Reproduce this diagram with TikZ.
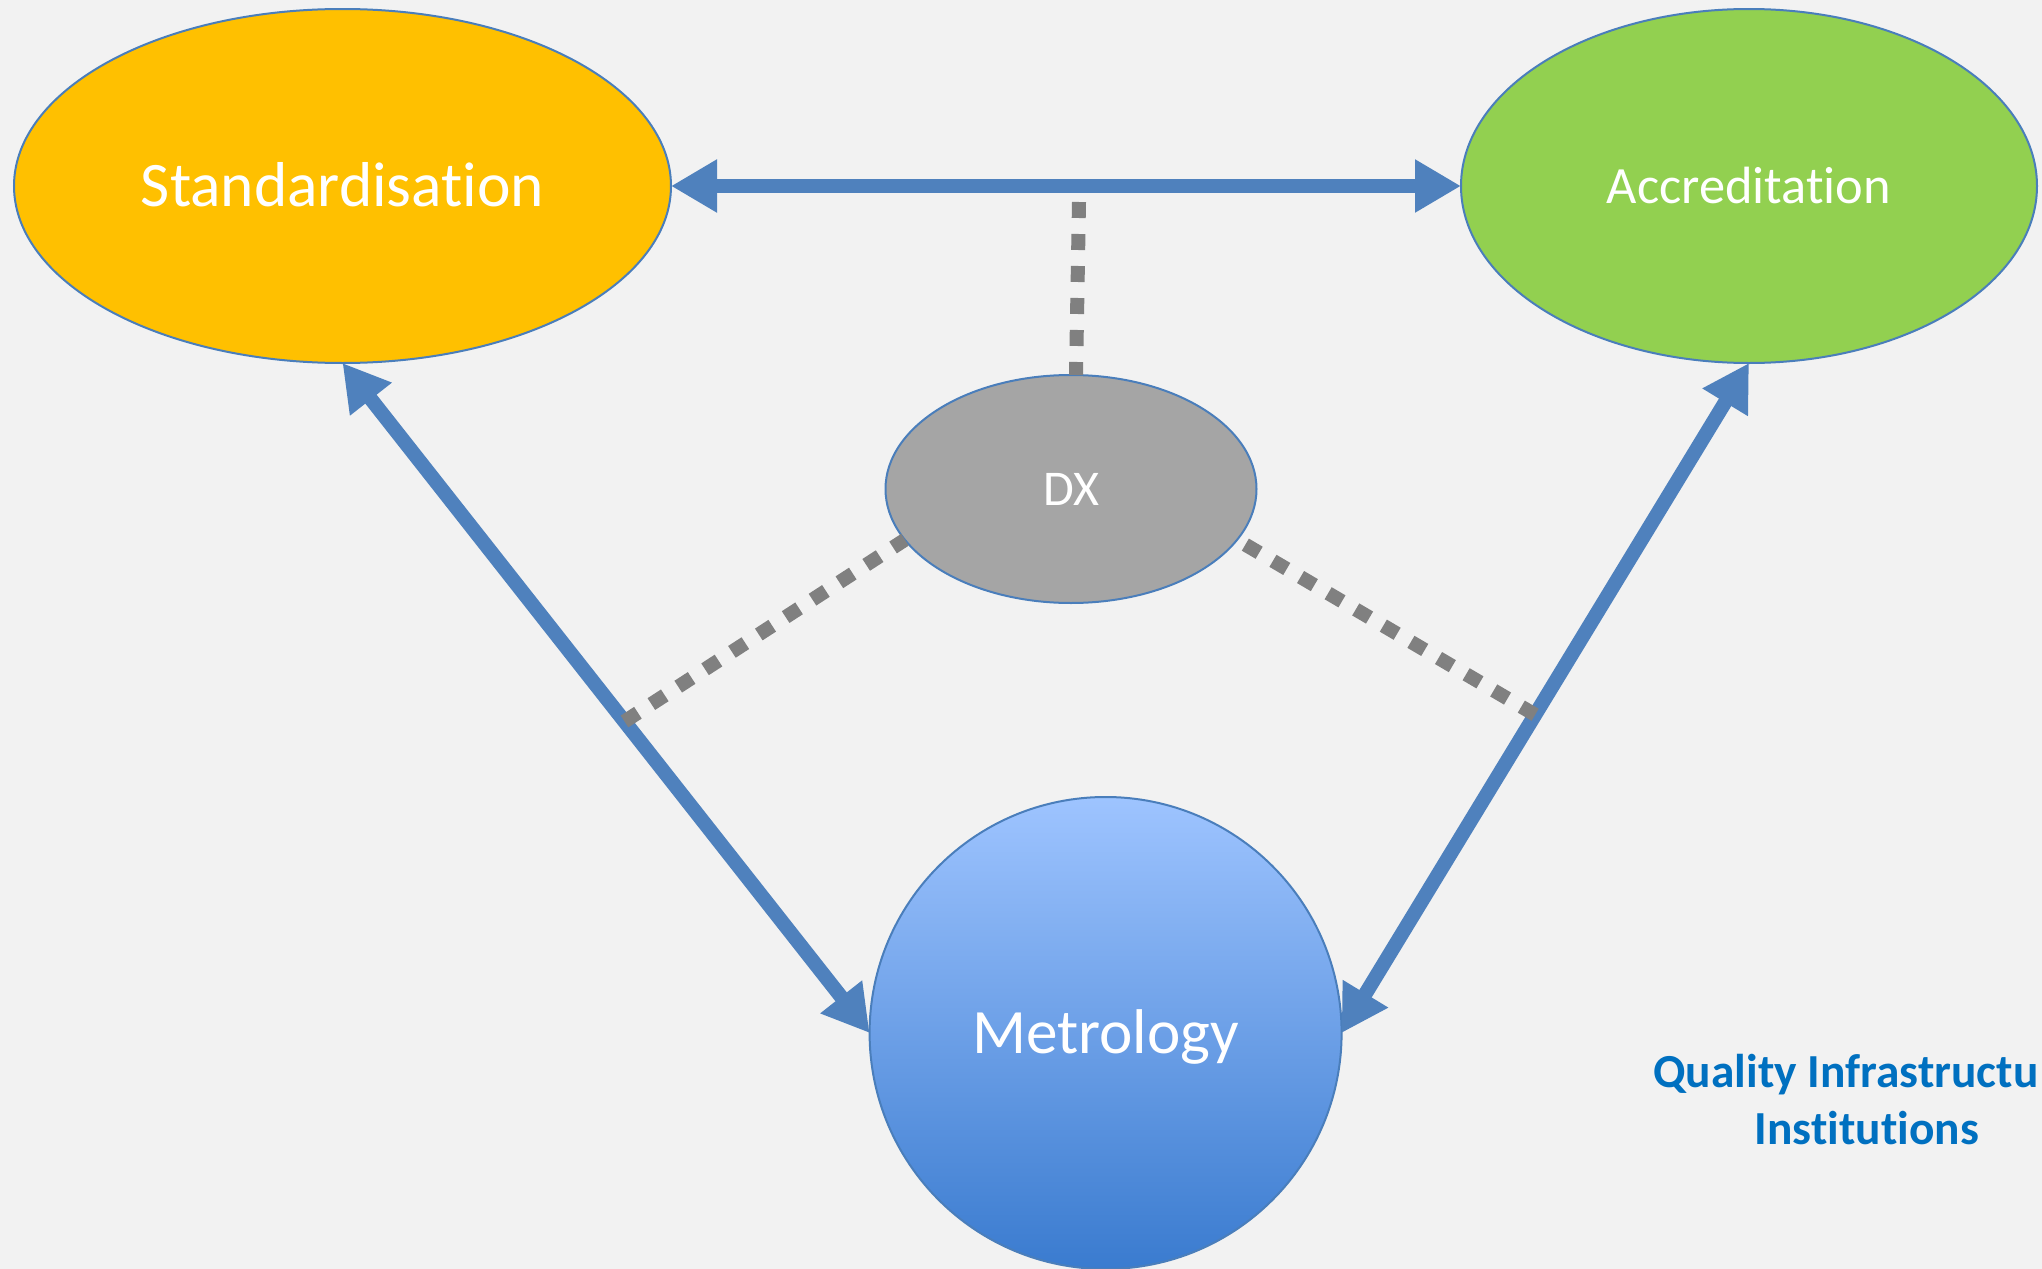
\documentclass[tikz,border=0pt]{standalone}
\usepackage{fontspec}
\setmainfont{Carlito}[Ligatures={NoCommon,NoContextual},RawFeature={-liga;-clig;-dlig}]
\usetikzlibrary{shapes.geometric,arrows.meta,calc}
\definecolor{bgc}{HTML}{F2F2F2}
\definecolor{stdc}{HTML}{FFC000}
\definecolor{accc}{HTML}{92D050}
\definecolor{dxc}{HTML}{A5A5A5}
\definecolor{edgec}{HTML}{4A7EBB}
\definecolor{arrc}{HTML}{4F81BD}
\definecolor{dotc}{HTML}{808080}
\definecolor{mettop}{HTML}{9EC4FF}
\definecolor{metbot}{HTML}{3A7BCF}
\definecolor{qtext}{HTML}{0070C0}
\newcommand{\lowtxt}[2]{\smash{\raisebox{-#1}{#2}}}
\tikzset{
  oval/.style={ellipse, draw=edgec, line width=1pt, inner sep=0pt, outer sep=0pt, text=white},
  bigarrow/.style={draw=arrc, line width=7.2pt, {Triangle[length=23pt,width=25pt]}-{Triangle[length=23pt,width=25pt]}},
  dotline/.style={draw=dotc, line width=7pt, dash pattern=on 8pt off 8pt},
  qlabel/.style={text=qtext, font=\fontsize{23.7}{28}\selectfont\bfseries, inner sep=0pt}
}
\begin{document}
\begin{tikzpicture}[x=0.5pt,y=-0.5pt]
\fill[bgc] (0,0) rectangle (2042,1269);
\useasboundingbox (0,0) rectangle (2042,1269);

\node[oval, fill=stdc, minimum width=328.5pt, minimum height=177pt,
      font=\fontsize{31.7}{38}\selectfont] (Std) at (342.5,186) {\lowtxt{10.3pt}{Standardisation}};
\node[oval, fill=accc, minimum width=288pt, minimum height=177pt,
      font=\fontsize{26.2}{32}\selectfont] (Acc) at (1749,186) {\lowtxt{8.5pt}{Accreditation}};
\node[oval, fill=dxc, minimum width=185.5pt, minimum height=114pt,
      font=\fontsize{25}{30}\selectfont] (DX) at (1071,489) {\lowtxt{8pt}{DX}};
\node[circle, draw=edgec, line width=1pt, inner sep=0pt, outer sep=0pt,
      minimum size=236pt, top color=mettop, bottom color=metbot, text=white,
      font=\fontsize{31.6}{38}\selectfont] (Met) at (1105.6,1033) {\lowtxt{10pt}{Metrology}};

\draw[bigarrow] (Std.east) -- (Acc.west);
\draw[bigarrow] (Std.south) -- (Met.west);
\draw[bigarrow] (Acc.south) -- (Met.east);

\coordinate (vtop) at (1079,202);
\coordinate (pL) at ($(Std.south)!0.535!(Met.west)$);
\coordinate (pR) at ($(Acc.south)!0.525!(Met.east)$);
\draw[dotline] (vtop) -- ([xshift=2.5pt]DX.north);
\draw[dotline] (pL) -- (DX.197);
\draw[dotline] (pR) -- (DX.343);

\node[qlabel, anchor=base west] (q1) at (1653,1087) {Quality Infrastructu};
\node[qlabel, anchor=base] (q2) at (1867,1144) {Institutions};
\end{tikzpicture}
\end{document}
